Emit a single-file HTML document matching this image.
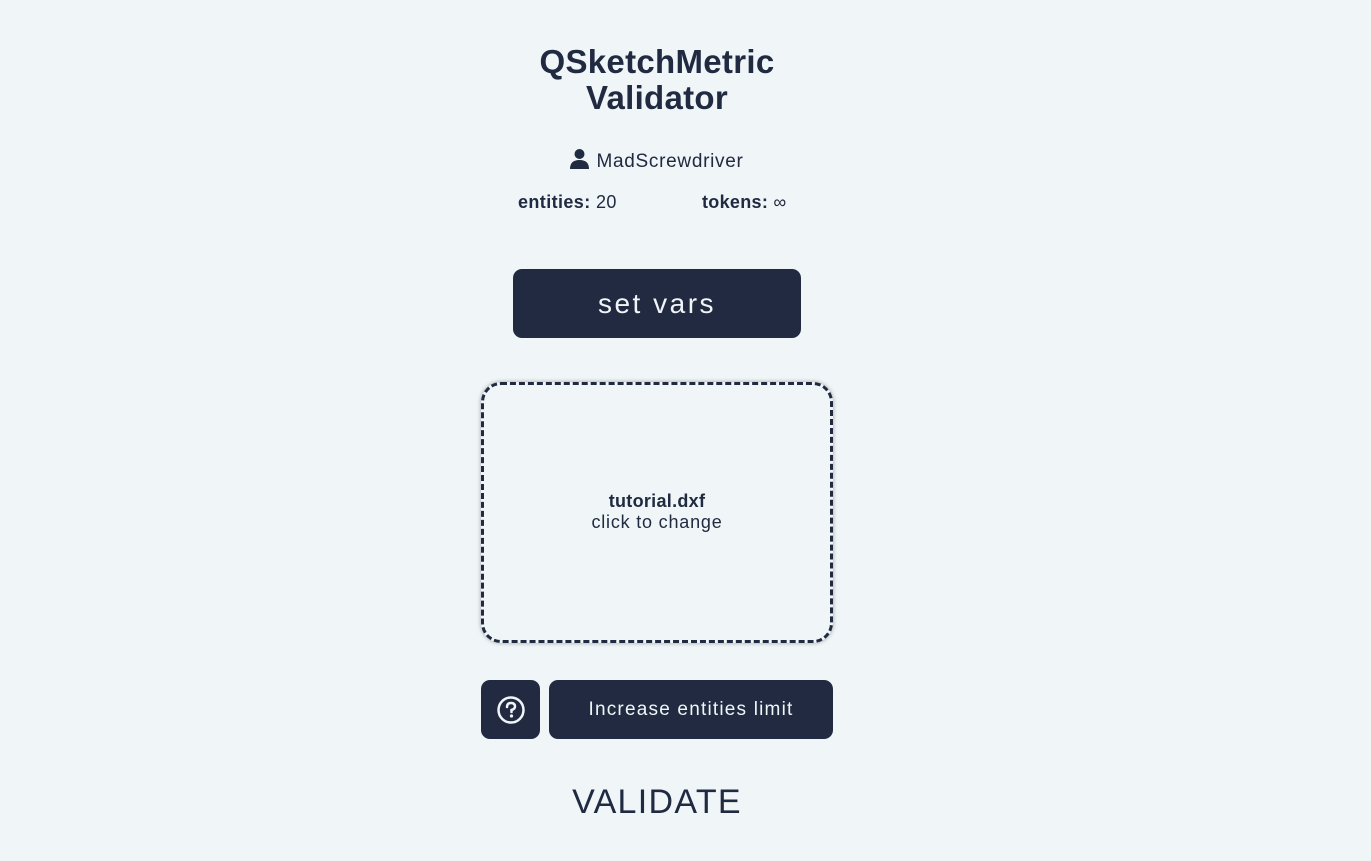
<!DOCTYPE html>
<html><head><meta charset="utf-8"><style>
*{margin:0;padding:0;box-sizing:border-box}
body{width:1371px;height:861px;background:#f0f5f8;font-family:"Liberation Sans",sans-serif;color:#202a40;position:relative;overflow:hidden}
.a{position:absolute;text-align:center}
.btn{position:absolute;background:#212a40;border-radius:9px;color:#f0f5f8;display:flex;align-items:center;justify-content:center}
</style></head><body>
<div class="a" style="left:457px;width:400px;top:44px;font-size:33px;font-weight:bold;line-height:36px;letter-spacing:0.3px">QSketchMetric<br>Validator</div>
<div class="a" style="left:457px;width:400px;top:149px;font-size:19px;line-height:22px;letter-spacing:0.7px">
<svg width="19" height="20" viewBox="0 0 19 20" style="vertical-align:-2px;margin-right:7px"><circle cx="9.5" cy="5" r="5" fill="#202a40"/><path d="M0 20 Q0 11 9.5 11 Q19 11 19 20Z" fill="#202a40"/></svg>MadScrewdriver</div>
<div class="a" style="left:518px;top:192px;font-size:18px;text-align:left;letter-spacing:0.4px"><b>entities:</b> 20</div>
<div class="a" style="left:702px;top:192px;font-size:18px;text-align:left;letter-spacing:0.3px"><b>tokens:</b> ∞</div>
<div class="btn" style="left:513px;top:269px;width:288px;height:69px;font-size:28px;letter-spacing:2.5px">set vars</div>
<div style="position:absolute;left:481px;top:382px;width:352px;height:261px;border:3px dashed #202a40;border-radius:20px;box-shadow:0 0 4px rgba(0,0,0,0.35)"></div>
<div class="a" style="left:481px;width:352px;top:491px;font-size:18px;line-height:21px;letter-spacing:0.8px"><b style="letter-spacing:0.3px">tutorial.dxf</b><br>click to change</div>
<div class="btn" style="left:481px;top:680px;width:59px;height:59px">
<svg width="30" height="30" viewBox="0 0 30 30"><circle cx="15" cy="15" r="12.5" fill="none" stroke="#f0f5f8" stroke-width="2.5"/><path d="M11 12 Q11 8 15 8 Q19 8 19 11.5 Q19 14 15.5 15 L15.5 17" fill="none" stroke="#f0f5f8" stroke-width="2.5" stroke-linecap="round"/><circle cx="15.5" cy="21" r="1.6" fill="#f0f5f8"/></svg></div>
<div class="btn" style="left:549px;top:680px;width:284px;height:59px;font-size:19px;letter-spacing:1.2px">Increase entities limit</div>
<div class="a" style="left:457px;width:400px;top:783px;font-size:34px;line-height:38px;letter-spacing:1.3px">VALIDATE</div>
</body></html>
